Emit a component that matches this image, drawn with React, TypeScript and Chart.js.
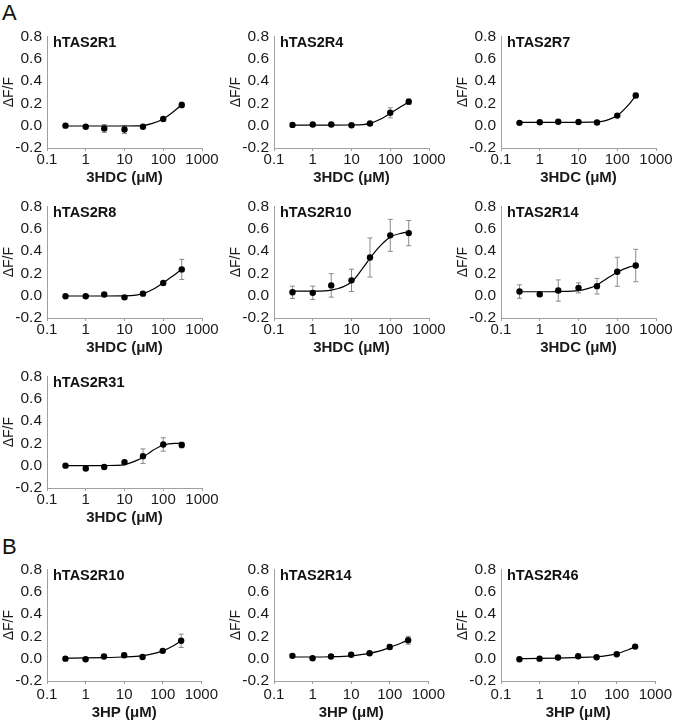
import React, { useEffect, useRef } from "react";
import { Chart, registerables } from "chart.js";

Chart.register(...registerables);

// ---------- data ----------
const concentrations = [0.3, 1, 3, 10, 30, 100, 300];
const fitConcentrations = [0.3, 1, 3, 10, 20, 30, 50, 100, 200, 300];
const xTickValues = [0.1, 1, 10, 100, 1000];
const yTickValues = [-0.2, 0, 0.2, 0.4, 0.6, 0.8];

// Panel A (3HDC)
const r1Mean = [0.0, -0.01, -0.025, -0.035, -0.01, 0.06, 0.185];
const r1Err = [0.005, 0.005, 0.035, 0.035, 0.01, 0.012, 0.025];
const r1Fit = [-0.003, -0.003, -0.003, -0.003, -0.002, 0.001, 0.018, 0.06, 0.135, 0.19];

const r4Mean = [0.007, 0.01, 0.01, 0.003, 0.02, 0.115, 0.215];
const r4Err = [0.005, 0.005, 0.005, 0.005, 0.006, 0.045, 0.025];
const r4Fit = [0.005, 0.005, 0.005, 0.006, 0.01, 0.02, 0.05, 0.11, 0.175, 0.215];

const r7Mean = [0.025, 0.03, 0.035, 0.033, 0.028, 0.09, 0.27];
const r7Err = [0.006, 0.005, 0.008, 0.006, 0.006, 0.008, 0.02];
const r7Fit = [0.03, 0.03, 0.03, 0.03, 0.031, 0.033, 0.045, 0.09, 0.19, 0.27];

const r8Mean = [-0.005, -0.005, 0.01, -0.015, 0.018, 0.113, 0.235];
const r8Err = [0.004, 0.004, 0.006, 0.006, 0.006, 0.01, 0.09];
const r8Fit = [-0.003, -0.003, -0.003, -0.002, 0.005, 0.018, 0.05, 0.115, 0.19, 0.235];

const r10Mean = [0.03, 0.025, 0.092, 0.137, 0.342, 0.54, 0.56];
const r10Err = [0.055, 0.06, 0.105, 0.1, 0.175, 0.143, 0.113];
const r10Fit = [0.04, 0.041, 0.05, 0.122, 0.25, 0.335, 0.43, 0.525, 0.56, 0.568];

const r14Mean = [0.037, 0.012, 0.046, 0.07, 0.085, 0.214, 0.27];
const r14Err = [0.06, 0.02, 0.095, 0.045, 0.07, 0.13, 0.145];
const r14Fit = [0.035, 0.035, 0.037, 0.045, 0.07, 0.095, 0.145, 0.21, 0.255, 0.27];

const r31Mean = [0.0, -0.025, -0.012, 0.03, 0.085, 0.19, 0.185];
const r31Err = [0.006, 0.006, 0.005, 0.006, 0.065, 0.06, 0.025];
const r31Fit = [0.0, 0.0, 0.001, 0.01, 0.045, 0.075, 0.13, 0.185, 0.2, 0.2];

// Panel B (3HP)
const b10Mean = [0.0, -0.005, 0.02, 0.03, 0.015, 0.07, 0.16];
const b10Err = [0.004, 0.004, 0.005, 0.005, 0.005, 0.008, 0.06];
const b10Fit = [0.005, 0.007, 0.01, 0.015, 0.02, 0.027, 0.04, 0.07, 0.12, 0.16];

const b14Mean = [0.025, 0.003, 0.02, 0.035, 0.048, 0.105, 0.165];
const b14Err = [0.005, 0.004, 0.005, 0.015, 0.008, 0.02, 0.035];
const b14Fit = [0.015, 0.015, 0.017, 0.025, 0.038, 0.048, 0.065, 0.1, 0.14, 0.165];

const b46Mean = [-0.005, 0.0, 0.01, 0.022, 0.012, 0.04, 0.108];
const b46Err = [0.004, 0.004, 0.004, 0.005, 0.004, 0.006, 0.008];
const b46Fit = [0.0, 0.002, 0.005, 0.01, 0.013, 0.017, 0.025, 0.045, 0.08, 0.105];

const panelNames = [
  "hTAS2R1", "hTAS2R4", "hTAS2R7", "hTAS2R8", "hTAS2R10",
  "hTAS2R14", "hTAS2R31", "hTAS2R10", "hTAS2R14", "hTAS2R46",
];
const xTitleA = "3HDC (\u03bcM)";
const xTitleB = "3HP (\u03bcM)";
const yTitle = "\u0394F/F";

// ---------- layout ----------
const FONT = '"Liberation Sans", Arial, Helvetica, sans-serif';
const CANVAS_W = 220;
const Y_AXIS_W = 47;
const PLOT_W = 155;
const PLOT_H = 112;
const PAD_TOP = 14;
const X_AXIS_H = 42;
const CANVAS_H = PAD_TOP + PLOT_H + X_AXIS_H;
const colLeft = [0, 227, 454];
const rowPlotTop = [36, 206, 376, 569];

type Panel = {
  name: string;
  mean: number[];
  err: number[];
  fit: number[];
  col: number;
  row: number;
  xTitle: string;
  tickPad: number;
  titlePadBottom: number;
};

const panels: Panel[] = [
  { name: panelNames[0], mean: r1Mean, err: r1Err, fit: r1Fit, col: 0, row: 0, xTitle: xTitleA, tickPad: 0, titlePadBottom: 3 },
  { name: panelNames[1], mean: r4Mean, err: r4Err, fit: r4Fit, col: 1, row: 0, xTitle: xTitleA, tickPad: 0, titlePadBottom: 3 },
  { name: panelNames[2], mean: r7Mean, err: r7Err, fit: r7Fit, col: 2, row: 0, xTitle: xTitleA, tickPad: 0, titlePadBottom: 3 },
  { name: panelNames[3], mean: r8Mean, err: r8Err, fit: r8Fit, col: 0, row: 1, xTitle: xTitleA, tickPad: 0, titlePadBottom: 3 },
  { name: panelNames[4], mean: r10Mean, err: r10Err, fit: r10Fit, col: 1, row: 1, xTitle: xTitleA, tickPad: 0, titlePadBottom: 3 },
  { name: panelNames[5], mean: r14Mean, err: r14Err, fit: r14Fit, col: 2, row: 1, xTitle: xTitleA, tickPad: 0, titlePadBottom: 3 },
  { name: panelNames[6], mean: r31Mean, err: r31Err, fit: r31Fit, col: 0, row: 2, xTitle: xTitleA, tickPad: 0, titlePadBottom: 3 },
  { name: panelNames[7], mean: b10Mean, err: b10Err, fit: b10Fit, col: 0, row: 3, xTitle: xTitleB, tickPad: 2, titlePadBottom: 1 },
  { name: panelNames[8], mean: b14Mean, err: b14Err, fit: b14Fit, col: 1, row: 3, xTitle: xTitleB, tickPad: 2, titlePadBottom: 1 },
  { name: panelNames[9], mean: b46Mean, err: b46Err, fit: b46Fit, col: 2, row: 3, xTitle: xTitleB, tickPad: 2, titlePadBottom: 1 },
];

function DosePanel({ p }: { p: Panel }) {
  const ref = useRef<HTMLCanvasElement | null>(null);
  useEffect(() => {
    if (!ref.current) return;
    const errorBars = {
      id: "errorBars",
      beforeDatasetsDraw(chart: any) {
        const { ctx, scales } = chart;
        ctx.save();
        ctx.strokeStyle = "#8a8a8a";
        ctx.lineWidth = 1;
        concentrations.forEach((c, i) => {
          const x = scales.x.getPixelForValue(c);
          const yt = scales.y.getPixelForValue(p.mean[i] + p.err[i]);
          const yb = scales.y.getPixelForValue(p.mean[i] - p.err[i]);
          ctx.beginPath();
          ctx.moveTo(x, yt);
          ctx.lineTo(x, yb);
          ctx.moveTo(x - 2.5, yt);
          ctx.lineTo(x + 2.5, yt);
          ctx.moveTo(x - 2.5, yb);
          ctx.lineTo(x + 2.5, yb);
          ctx.stroke();
        });
        ctx.restore();
      },
    };
    const chart = new Chart(ref.current, {
      type: "scatter",
      data: {
        datasets: [
          {
            data: fitConcentrations.map((x, i) => ({ x, y: p.fit[i] })),
            showLine: true,
            pointRadius: 0,
            borderColor: "#000",
            borderWidth: 1.2,
            cubicInterpolationMode: "monotone",
          } as any,
          {
            data: concentrations.map((x, i) => ({ x, y: p.mean[i] })),
            pointRadius: 3.2,
            pointBackgroundColor: "#000",
            pointBorderWidth: 0,
            backgroundColor: "#000",
          },
        ],
      },
      options: {
        animation: false,
        responsive: false,
        events: [],
        layout: { padding: { top: PAD_TOP, right: CANVAS_W - Y_AXIS_W - PLOT_W, bottom: 0, left: 0 } },
        plugins: { legend: { display: false }, tooltip: { enabled: false } },
        scales: {
          x: {
            type: "logarithmic",
            min: 0.1,
            max: 1000,
            afterBuildTicks: (axis: any) => {
              axis.ticks = xTickValues.map((v) => ({ value: v }));
            },
            afterFit: (s: any) => {
              s.height = X_AXIS_H;
            },
            ticks: {
              autoSkip: false,
              maxRotation: 0,
              minRotation: 0,
              padding: p.tickPad,
              color: "#1a1a1a",
              font: { family: FONT, size: 15 },
              callback: (v: any) => String(v),
            },
            grid: { drawOnChartArea: false, drawTicks: true, tickLength: 3, color: "#a0a0a0" },
            border: { color: "#a0a0a0", width: 1 },
            title: {
              display: true,
              text: p.xTitle,
              color: "#1a1a1a",
              font: { family: FONT, size: 15, weight: "bold" },
              padding: { top: 0, bottom: p.titlePadBottom },
            },
          },
          y: {
            type: "linear",
            min: -0.2,
            max: 0.8,
            afterBuildTicks: (axis: any) => {
              axis.ticks = yTickValues.map((v) => ({ value: v }));
            },
            afterFit: (s: any) => {
              s.width = Y_AXIS_W;
            },
            ticks: {
              padding: 5,
              color: "#1a1a1a",
              font: { family: FONT, size: 15.5 },
              callback: (v: any) => (Math.abs(Number(v)) < 1e-9 ? "0.0" : Number(v).toFixed(1)),
            },
            grid: { drawOnChartArea: false, drawTicks: false },
            border: { color: "#a0a0a0", width: 1 },
            title: {
              display: true,
              text: yTitle,
              color: "#1a1a1a",
              font: { family: FONT, size: 14 },
              padding: { top: 1, bottom: 0 },
            },
          },
        },
      } as any,
      plugins: [errorBars],
    });
    return () => chart.destroy();
  }, [p]);

  const left = colLeft[p.col];
  const top = rowPlotTop[p.row] - PAD_TOP;
  return (
    <>
      <canvas
        ref={ref}
        width={CANVAS_W}
        height={CANVAS_H}
        style={{ position: "absolute", left, top, width: CANVAS_W, height: CANVAS_H }}
      />
      <div
        style={{
          position: "absolute",
          left: left + Y_AXIS_W + 6,
          top: rowPlotTop[p.row] - 1,
          fontFamily: FONT,
          fontWeight: "bold",
          fontSize: 14.5,
          lineHeight: "14px",
          color: "#111",
          whiteSpace: "nowrap",
        }}
      >
        {p.name}
      </div>
    </>
  );
}

export default function App() {
  return (
    <div
      style={{
        position: "absolute",
        left: 0,
        top: 0,
        width: 674,
        height: 720,
        background: "#fff",
        overflow: "hidden",
      }}
    >
      <div style={{ position: "absolute", left: 2, top: 2, fontFamily: FONT, fontSize: 22, lineHeight: "22px", color: "#111" }}>A</div>
      <div style={{ position: "absolute", left: 2, top: 536, fontFamily: FONT, fontSize: 22, lineHeight: "22px", color: "#111" }}>B</div>
      {panels.map((p, i) => (
        <DosePanel key={i} p={p} />
      ))}
    </div>
  );
}
